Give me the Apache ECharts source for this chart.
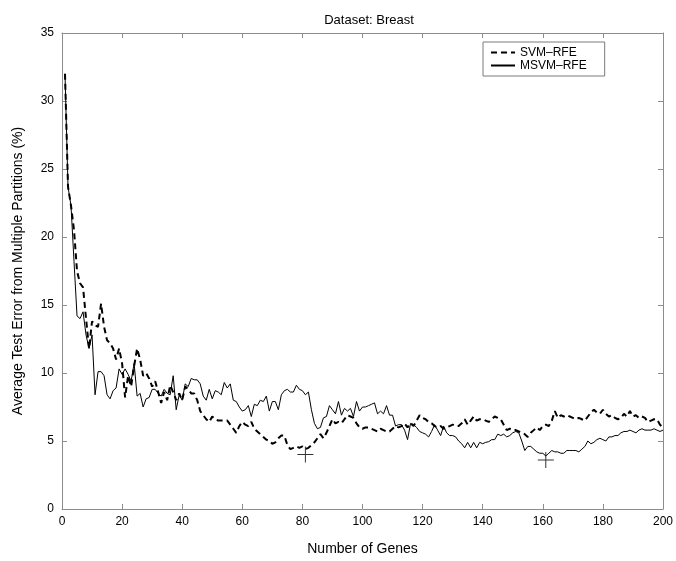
<!DOCTYPE html>
<html>
<head>
<meta charset="utf-8">
<script src="https://cdn.jsdelivr.net/npm/echarts@6/dist/echarts.min.js"></script>
<style>
  html, body { margin: 0; padding: 0; background: #fff; }
  #chart { width: 676px; height: 561px; }
</style>
</head>
<body>
<div id="chart"></div>
<script>
var svmRfe = [
  32.0, 23.7, 22.3, 20.5, 17.5, 16.6, 16.3, 14.0, 11.8, 13.8,
  13.5, 13.4, 15.1, 13.4, 12.4, 12.2, 11.8, 11.0, 11.8, 10.7,
  8.2, 9.8, 9.0, 10.5, 11.8, 11.0, 9.8, 10.0, 9.6, 9.0,
  9.4, 8.6, 7.8, 8.6, 8.0, 9.1, 8.6, 8.0, 8.5, 8.0,
  9.0, 8.8, 8.5, 8.5, 8.0, 7.2, 6.9, 6.6, 6.4, 6.8,
  6.6, 6.5, 6.5, 6.5, 6.5, 6.2, 5.9, 5.6, 6.1, 6.4,
  6.2, 6.1, 6.4, 5.9, 5.7, 5.5, 5.3, 5.1, 5.0, 4.8,
  4.9, 5.2, 5.4, 5.4, 4.7, 4.4, 4.5, 4.6, 4.5, 4.6,
  4.4, 4.5, 4.7, 4.9, 5.2, 5.5, 5.2, 5.6, 6.1, 6.6,
  6.3, 6.4, 6.3, 6.6, 6.9, 6.8, 6.7, 6.3, 6.0, 5.9,
  6.0, 6.0, 5.9, 5.8, 5.7, 5.9, 5.8, 5.7, 5.7, 5.9,
  6.1, 6.0, 6.1, 6.3, 6.0, 6.3, 6.1, 6.5, 6.9, 6.7,
  6.6, 6.4, 6.3, 6.1, 6.0, 6.1, 5.9, 6.0, 6.1, 6.2,
  6.1, 6.1, 6.3, 6.6, 6.2, 6.5, 6.8, 6.5, 6.6, 6.6,
  6.5, 6.4, 6.6, 6.8, 6.7, 6.6, 6.2, 5.8, 5.9, 5.8,
  5.8, 5.7, 5.6, 5.5, 5.3, 5.6, 5.8, 6.0, 5.8, 6.1,
  6.2, 6.1, 6.5, 7.2, 6.7, 6.9, 6.8, 6.9, 6.8, 6.7,
  6.6, 6.7, 6.6, 6.5, 6.8, 7.1, 7.3, 7.1, 7.0, 7.3,
  7.0, 6.8, 6.9, 6.7, 6.6, 6.7, 7.0, 6.8, 7.2, 6.8,
  6.9, 6.7, 6.8, 6.7, 6.4, 6.5, 6.6, 6.6, 6.2, 6.0
];

var msvmRfe = [
  32.0, 23.7, 22.3, 18.2, 14.2, 14.0, 14.5, 12.8, 11.8, 12.8,
  8.4, 10.1, 10.1, 9.8, 8.4, 8.1, 8.7, 8.9, 10.3, 9.9,
  10.3, 9.9, 9.4, 10.7, 8.3, 8.5, 7.5, 8.1, 8.2, 8.8,
  8.8, 8.5, 8.3, 8.8, 8.5, 8.4, 9.8, 7.3, 8.4, 8.0,
  9.2, 9.0, 9.6, 9.5, 9.5, 9.2, 8.3, 8.0, 8.8, 8.1,
  8.7, 8.6, 8.4, 9.3, 8.9, 9.2, 8.0, 7.9, 7.5, 7.2,
  7.3, 7.6, 6.8, 7.7, 7.6, 8.0, 7.9, 8.3, 7.2, 7.9,
  7.9, 7.3, 8.4, 8.7, 8.8, 8.6, 8.6, 9.1, 8.8, 8.7,
  8.4, 8.6, 7.3, 6.3, 5.9, 6.0, 6.7, 6.8, 7.6, 7.3,
  7.0, 7.9, 6.9, 7.4, 7.2, 7.4, 6.8, 7.9, 7.2, 7.5,
  7.5, 7.6, 7.7, 7.8, 7.0, 7.2, 7.0, 7.6, 6.9, 6.9,
  6.1, 6.2, 6.2, 5.8, 5.1, 6.3, 6.2, 6.0, 5.7, 5.6,
  5.5, 5.3, 5.7, 6.2, 5.8, 5.4, 6.1, 5.6, 5.4, 5.4,
  5.3, 5.0, 4.8, 4.5, 4.9, 4.5, 4.9, 4.5, 4.9, 4.8,
  4.9, 4.95, 5.1, 5.1, 5.5, 5.4, 5.5, 5.3, 5.4, 5.6,
  5.7, 5.6, 5.0, 4.3, 4.6, 4.6, 4.4, 4.2, 4.1, 4.1,
  3.9, 4.1, 4.3, 4.2, 4.2, 4.1, 4.1, 4.3, 4.3, 4.3,
  4.3, 4.2, 4.4, 4.6, 5.0, 4.8, 4.9, 5.1, 5.2, 5.1,
  5.0, 5.3, 5.3, 5.4, 5.4, 5.6, 5.7, 5.7, 5.8, 5.7,
  5.6, 5.8, 5.9, 5.8, 5.8, 5.8, 5.9, 5.8, 5.7, 5.8
];

// minimum markers ('+')
var minPoints = [[81, 4.0], [161, 3.6]];

var xTicks = { min: 0, max: 200, interval: 20 };
var yTicks = { min: 0, max: 35, interval: 5 };

function pairs(vals) {
  var out = [];
  for (var i = 0; i < vals.length; i++) {
    out.push([i + 1, vals[i]]);
  }
  return out;
}

var fontFamily = 'Liberation Sans, Arial, sans-serif';
var axisColor = '#8c8c8c';

function axis(extra) {
  return Object.assign({
    axisLine: { show: true, onZero: false, lineStyle: { color: axisColor, width: 1 } },
    axisTick: { show: true, inside: true, length: 5, lineStyle: { color: axisColor } },
    splitLine: { show: false }
  }, extra);
}

var option = {
  animation: false,
  backgroundColor: '#fff',
  textStyle: { fontFamily: fontFamily },
  title: {
    text: 'Dataset: Breast',
    left: 364,
    top: 9,
    textAlign: 'center',
    textStyle: { fontSize: 13, fontWeight: 'normal', color: '#000', fontFamily: fontFamily }
  },
  grid: { left: 62, right: 10, top: 33, bottom: 52 },
  legend: {
    data: ['SVM–RFE', 'MSVM–RFE'],
    orient: 'vertical',
    left: 483,
    top: 42,
    padding: [4, 18, 4, 7],
    itemGap: 0,
    itemWidth: 24,
    itemHeight: 10,
    itemStyle: { opacity: 0 },
    borderColor: '#7a7a7a',
    borderWidth: 1,
    backgroundColor: '#fff',
    textStyle: { fontSize: 12, lineHeight: 13, color: '#000', fontFamily: fontFamily }
  },
  xAxis: [
    axis({
      type: 'value',
      min: xTicks.min, max: xTicks.max, interval: xTicks.interval,
      name: 'Number of Genes',
      nameLocation: 'middle',
      nameGap: 33,
      nameTextStyle: { fontSize: 14, color: '#000' },
      axisLabel: { fontSize: 12, color: '#000', margin: 7 }
    }),
    axis({
      type: 'value', position: 'top',
      min: xTicks.min, max: xTicks.max, interval: xTicks.interval,
      axisLabel: { show: false }
    })
  ],
  yAxis: [
    axis({
      type: 'value',
      min: yTicks.min, max: yTicks.max, interval: yTicks.interval,
      name: 'Average Test Error from Multiple Partitions (%)',
      nameLocation: 'middle',
      nameGap: 37,
      nameTextStyle: { fontSize: 14, color: '#000' },
      axisLabel: { fontSize: 12, color: '#000', margin: 8 }
    }),
    axis({
      type: 'value', position: 'right',
      min: yTicks.min, max: yTicks.max, interval: yTicks.interval,
      axisLabel: { show: false }
    })
  ],
  series: [
    {
      name: 'SVM–RFE',
      type: 'line',
      data: pairs(svmRfe),
      symbol: 'none',
      lineStyle: { color: '#000', width: 2, type: [6, 4] },
      itemStyle: { color: '#000' },
      z: 3
    },
    {
      name: 'MSVM–RFE',
      type: 'line',
      data: pairs(msvmRfe),
      symbol: 'none',
      lineStyle: { color: '#000', width: 1, type: 'solid' },
      itemStyle: { color: '#000' },
      z: 2
    },
    {
      name: 'min',
      type: 'scatter',
      data: minPoints,
      symbol: 'path://M-0.5,-8H0.5V-0.5H8V0.5H0.5V8H-0.5V0.5H-8V-0.5H-0.5Z',
      symbolSize: 16,
      itemStyle: { color: '#000' },
      z: 4
    }
  ]
};

var chart = echarts.init(document.getElementById('chart'));
chart.setOption(option);
</script>
</body>
</html>
